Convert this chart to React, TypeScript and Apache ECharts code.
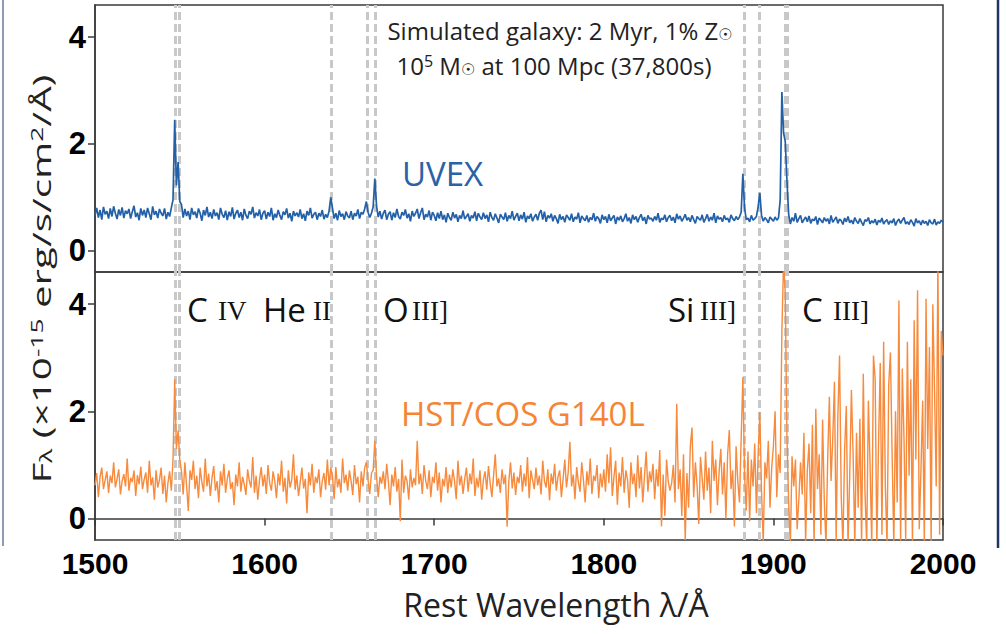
import React, { useEffect, useRef } from "react";
import * as echarts from "echarts";

// Wavelength grid (Å): first sample and spacing
const WAVE_START = 1500;
const WAVE_STEP = 1;

// UVEX simulated spectrum, flux in 1e-15 erg/s/cm^2/Å, one value per Å from 1500 to 2000
const UVEX_FLUX = [
  0.66,0.80,0.62,0.76,0.58,0.82,0.68,0.74,0.60,0.79,
  0.64,0.83,0.70,0.59,0.77,0.66,0.81,0.61,0.75,0.69,
  0.78,0.60,0.73,0.84,0.63,0.71,0.57,0.79,0.66,0.76,
  0.62,0.80,0.69,0.58,0.83,0.67,0.74,0.61,0.78,0.70,
  0.65,0.79,0.59,0.72,0.64,0.80,0.95,2.45,1.22,1.66,
  0.92,0.86,0.62,0.78,0.65,0.74,0.58,0.80,0.67,0.73,
  0.61,0.79,0.70,0.56,0.76,0.66,0.82,0.63,0.72,0.60,
  0.77,0.65,0.71,0.58,0.80,0.68,0.62,0.75,0.57,0.73,
  0.64,0.81,0.59,0.70,0.76,0.62,0.72,0.57,0.78,0.66,
  0.60,0.74,0.68,0.82,0.61,0.71,0.65,0.77,0.58,0.70,
  0.75,0.59,0.72,0.64,0.80,0.57,0.69,0.62,0.76,0.66,
  0.58,0.73,0.67,0.79,0.61,0.70,0.55,0.74,0.65,0.71,
  0.63,0.77,0.60,0.69,0.56,0.74,0.66,0.80,0.61,0.68,
  0.72,0.58,0.70,0.64,0.76,0.59,0.68,0.62,0.74,1.00,
  0.80,0.60,0.70,0.57,0.75,0.64,0.69,0.58,0.73,0.65,
  0.61,0.74,0.58,0.70,0.65,0.77,0.60,0.72,0.68,0.78,
  0.92,0.72,0.62,0.70,0.82,1.35,0.84,0.63,0.74,0.59,
  0.70,0.76,0.58,0.68,0.73,0.57,0.71,0.62,0.78,0.64,
  0.59,0.72,0.66,0.77,0.61,0.69,0.55,0.74,0.64,0.70,
  0.78,0.60,0.71,0.80,0.58,0.68,0.63,0.75,0.57,0.72,
  0.66,0.56,0.71,0.60,0.74,0.58,0.67,0.53,0.70,0.62,
  0.57,0.72,0.61,0.68,0.54,0.66,0.60,0.75,0.59,0.64,
  0.69,0.55,0.66,0.61,0.73,0.56,0.70,0.63,0.58,0.71,
  0.60,0.67,0.54,0.72,0.62,0.57,0.69,0.61,0.52,0.68,
  0.63,0.58,0.71,0.55,0.66,0.60,0.74,0.57,0.64,0.70,
  0.56,0.67,0.59,0.72,0.53,0.65,0.60,0.69,0.55,0.63,
  0.68,0.57,0.70,0.76,0.58,0.73,0.54,0.66,0.61,0.69,
  0.55,0.66,0.60,0.51,0.68,0.58,0.64,0.53,0.67,0.62,
  0.57,0.69,0.54,0.63,0.59,0.71,0.52,0.65,0.60,0.56,
  0.66,0.53,0.62,0.58,0.70,0.55,0.64,0.60,0.51,0.67,
  0.58,0.64,0.52,0.68,0.56,0.61,0.66,0.50,0.63,0.57,
  0.65,0.54,0.60,0.69,0.55,0.62,0.51,0.67,0.58,0.64,
  0.53,0.62,0.68,0.56,0.63,0.50,0.66,0.59,0.61,0.55,
  0.64,0.57,0.70,0.53,0.61,0.58,0.67,0.54,0.62,0.66,
  0.56,0.63,0.52,0.69,0.59,0.65,0.55,0.61,0.68,0.57,
  0.62,0.54,0.66,0.58,0.51,0.64,0.60,0.57,0.67,0.53,
  0.60,0.68,0.55,0.63,0.57,0.70,0.52,0.65,0.59,0.62,
  0.54,0.66,0.58,0.61,0.53,0.67,0.60,0.56,0.64,0.58,
  0.63,0.72,1.44,0.80,0.58,0.61,0.54,0.66,0.57,0.60,
  0.64,0.82,1.08,0.66,0.55,0.62,0.58,0.52,0.63,0.59,
  0.55,0.63,0.57,0.61,0.95,2.97,2.20,2.04,1.30,0.68,
  0.50,0.62,0.55,0.70,0.53,0.60,0.66,0.52,0.58,0.63,
  0.54,0.65,0.51,0.59,0.56,0.64,0.49,0.61,0.57,0.52,
  0.62,0.55,0.60,0.50,0.66,0.53,0.58,0.63,0.51,0.59,
  0.56,0.49,0.61,0.54,0.64,0.52,0.57,0.50,0.62,0.55,
  0.51,0.60,0.53,0.47,0.58,0.55,0.62,0.50,0.56,0.52,
  0.59,0.48,0.57,0.53,0.61,0.50,0.55,0.58,0.49,0.56,
  0.52,0.60,0.47,0.55,0.59,0.51,0.57,0.62,0.50,0.54,
  0.49,0.58,0.53,0.46,0.60,0.52,0.56,0.48,0.57,0.51,
  0.55,0.47,0.58,0.52,0.50,0.59,0.48,0.54,0.51,0.57,
  0.53,
];

// HST/COS G140L spectrum, same units and grid
const HST_FLUX = [
  0.62,0.85,0.40,0.78,0.95,0.55,0.72,0.88,0.48,0.80,
  0.66,1.05,0.58,0.74,0.92,0.45,0.70,0.83,0.60,1.12,
  0.52,0.76,0.68,0.90,0.42,0.81,0.64,0.97,0.55,0.73,
  0.86,0.48,1.08,0.62,0.77,0.35,0.90,0.58,0.72,0.95,
  0.46,0.80,0.30,0.66,0.88,0.52,1.10,2.60,1.30,1.64,
  1.10,0.88,0.45,1.05,0.62,0.14,0.90,0.72,1.08,0.55,
  0.80,0.38,0.95,0.68,0.50,1.12,0.60,0.84,0.42,0.76,
  0.98,0.52,0.70,0.30,0.88,0.62,1.02,0.48,0.74,0.90,
  0.55,0.68,0.25,0.82,0.60,1.05,0.50,0.78,0.64,0.44,
  0.92,0.70,0.58,1.15,0.48,0.80,0.35,0.72,0.96,0.60,
  0.82,0.46,1.00,0.66,0.52,0.88,0.70,0.38,0.84,0.62,
  1.08,0.50,0.76,0.28,0.90,0.58,0.72,1.20,0.54,0.80,
  0.42,0.68,0.95,0.56,0.74,0.10,0.86,0.62,1.02,0.48,
  0.78,0.66,0.92,0.40,0.70,0.85,0.54,1.10,0.62,0.95,
  0.80,0.36,0.96,0.58,0.74,0.48,1.12,0.66,0.82,0.52,
  0.90,0.70,0.44,1.00,0.64,0.78,0.30,0.88,0.60,0.95,
  1.05,0.72,0.46,0.85,0.90,1.45,0.80,0.40,0.78,0.65,
  0.88,0.55,1.02,0.68,0.25,0.82,0.60,0.96,0.50,0.74,
  -0.05,1.10,0.48,0.80,0.70,0.35,0.92,0.58,0.76,0.62,
  1.45,0.64,0.84,0.46,1.00,0.70,0.55,0.90,0.40,0.78,
  0.66,1.05,0.52,0.86,0.30,0.74,0.60,0.96,0.48,0.82,
  0.58,0.92,0.70,0.36,1.08,0.62,0.80,0.46,0.74,0.95,
  0.50,0.84,0.64,1.12,0.42,0.76,0.58,0.90,0.35,0.72,
  0.88,0.54,0.98,0.66,0.40,0.80,1.20,0.60,0.75,0.48,
  0.92,0.64,0.82,-0.15,0.70,1.05,0.56,0.86,0.44,0.78,
  0.66,1.00,0.50,0.84,0.60,1.15,0.38,0.90,0.72,0.55,
  0.95,0.62,0.80,0.45,1.08,0.70,0.58,0.92,0.34,0.84,
  0.64,1.02,0.52,0.78,0.90,0.40,0.74,1.10,0.58,0.86,
  1.43,0.60,0.82,0.36,0.96,0.68,0.50,1.05,0.72,0.30,
  0.88,0.62,1.12,0.46,0.80,0.70,1.00,0.38,0.84,0.58,
  0.92,0.50,1.20,0.66,1.33,0.42,0.78,1.08,0.26,0.86,
  0.60,1.15,0.48,0.90,0.72,0.20,1.05,0.64,0.84,0.40,
  1.18,0.56,0.96,0.30,0.80,1.25,0.50,0.88,0.68,1.02,
  0.36,0.92,0.60,1.28,-0.15,0.82,0.05,1.10,0.70,0.52,
  0.66,1.00,0.30,2.14,0.55,0.92,0.05,1.20,-0.40,0.85,
  0.20,1.35,1.70,0.40,1.05,0.62,-0.10,1.15,0.75,0.35,
  1.25,0.52,0.95,0.10,1.45,0.70,1.10,0.25,0.88,1.30,
  0.45,1.05,0.00,1.20,1.65,0.55,0.90,-0.15,1.35,0.70,
  0.30,1.50,2.64,0.80,0.15,1.25,-0.05,1.10,0.60,1.40,
  0.10,1.20,1.99,0.50,-0.45,1.05,0.75,1.45,0.20,0.95,
  1.35,2.00,0.40,1.20,0.85,3.50,4.80,4.20,1.50,0.30,
  -0.50,1.16,0.60,1.10,-0.20,0.35,1.05,0.45,1.60,-0.45,
  0.90,1.40,0.10,1.75,-0.50,2.05,0.55,1.20,-0.30,1.85,
  0.35,-0.50,1.10,2.27,0.70,1.50,2.55,-0.45,1.90,3.04,
  0.40,-0.50,1.30,2.10,-0.50,0.80,2.40,1.20,-0.50,1.60,
  0.20,1.86,-0.50,2.70,0.50,-0.50,2.20,1.00,-0.50,3.04,
  2.60,-0.50,1.40,2.90,-0.30,3.30,0.60,-0.50,2.50,3.10,
  1.20,-0.50,2.00,0.30,4.07,-0.50,2.80,1.50,-0.40,3.30,
  0.80,2.60,-0.50,3.70,1.10,4.26,-0.20,0.90,2.20,-0.50,
  4.10,1.30,3.20,-0.50,4.00,2.40,0.60,4.80,-0.30,3.50,
  3.04,
];

// Emission line rest wavelengths (Å) marked by dashed lines
const LINE_WAVES = [1547.5, 1549.7, 1639.3, 1660.5, 1665.1, 1882.7, 1891.6, 1907.1, 1908.4];

// Axes
const X_MIN = 1500;
const X_MAX = 2000;
const X_INTERVAL = 100;
const Y_MIN = -0.4;
const Y_MAX = 4.6;
const Y_TICKS = [0, 2, 4];

// Texts
const ANNOT_LINE1 = "Simulated galaxy: 2 Myr, 1% Z{sub|☉}";
const ANNOT_LINE2 = "10{sup|5} M{sub|☉} at 100 Mpc (37,800s)";
const UVEX_LABEL = "UVEX";
const HST_LABEL = "HST/COS G140L";
const X_TITLE = "Rest Wavelength λ/Å";
const Y_TITLE = "F{sub|λ} (×10{sup|-15} erg/s/cm{sup|2}/Å)";
// [element, ionization stage, x position of element, x position of stage]
const ION_LABELS: [string, string, number, number][] = [
  ["C", "IV", 187, 218],
  ["He", "II", 263, 313],
  ["O", "III]", 383, 412],
  ["Si", "III]", 668, 700],
  ["C", "III]", 802, 833],
];

const BLUE = "#2260a8";
const ORANGE = "#f78a3c";
const AXIS = "#3a3a3a";
const DASH = "#c8c8c8";
const SANS = '"Open Sans", "DejaVu Sans", sans-serif';
const SERIF = '"Liberation Serif", "DejaVu Serif", serif';

const toPairs = (arr: number[]) => arr.map((v, i) => [WAVE_START + i * WAVE_STEP, v]);

export default function App() {
  const ref = useRef<HTMLDivElement>(null);

  useEffect(() => {
    if (!ref.current) return;
    const chart = echarts.init(ref.current, null, { renderer: "svg" });

    const markLine = {
      silent: true,
      z: 1,
      symbol: ["none", "none"],
      label: { show: false },
      emphasis: { disabled: true },
      lineStyle: { color: DASH, type: [8, 4], width: 3 },
      data: LINE_WAVES.map((w) => ({ xAxis: w })),
    };

    const yAxisBase = (gridIndex: number) => ({
      gridIndex,
      type: "value",
      min: Y_MIN,
      max: Y_MAX,
      axisLine: { show: true, lineStyle: { color: AXIS, width: 1.5 } },
      axisTick: { show: true, length: 7, customValues: Y_TICKS, lineStyle: { color: AXIS, width: 1.5 } },
      axisLabel: {
        customValues: Y_TICKS,
        color: "#000",
        fontSize: 31,
        fontWeight: "bold",
        fontFamily: '"Liberation Sans", Arial, sans-serif',
        margin: 9,
      },
      splitLine: { show: false },
    });

    const supSub = {
      sub: { fontSize: 16, verticalAlign: "bottom", fontFamily: SANS, fill: "#222" },
      sup: { fontSize: 16, verticalAlign: "top", fontFamily: SANS, fill: "#222" },
    };

    const graphic: any[] = [
      { type: "line", shape: { x1: 3, y1: 0, x2: 3, y2: 546 }, style: { stroke: "#6a7a96", lineWidth: 1.5 }, silent: true },
      { type: "line", shape: { x1: 998, y1: 0, x2: 998, y2: 548 }, style: { stroke: "#1f3566", lineWidth: 2.5 }, silent: true },
      {
        type: "text", x: 560, y: 30, silent: true,
        style: { text: ANNOT_LINE1, fontSize: 24, fontFamily: SANS, fill: "#222", align: "center", verticalAlign: "middle", textAlign: "center", textVerticalAlign: "middle", rich: supSub },
      },
      {
        type: "text", x: 554, y: 65, silent: true,
        style: { text: ANNOT_LINE2, fontSize: 24, fontFamily: SANS, fill: "#222", align: "center", verticalAlign: "middle", textAlign: "center", textVerticalAlign: "middle", rich: supSub },
      },
      {
        type: "text", x: 402, y: 173, silent: true,
        style: { text: UVEX_LABEL, fontSize: 33, fontFamily: SANS, fill: "#2a62a8", align: "left", verticalAlign: "middle", textAlign: "left", textVerticalAlign: "middle" },
      },
      {
        type: "text", x: 401, y: 413, silent: true,
        style: { text: HST_LABEL, fontSize: 33, fontFamily: SANS, fill: "#f58536", align: "left", verticalAlign: "middle", textAlign: "left", textVerticalAlign: "middle" },
      },
      {
        type: "text", x: 556, y: 604, silent: true,
        style: { text: X_TITLE, fontSize: 32, fontFamily: SANS, fill: "#222", align: "center", verticalAlign: "middle", textAlign: "center", textVerticalAlign: "middle" },
      },
      {
        type: "text", x: 41, y: 279, rotation: Math.PI / 2, scaleX: 1.55, scaleY: 1, silent: true,
        style: {
          text: Y_TITLE, fontSize: 26, fontFamily: SANS, fill: "#222",
          align: "center", verticalAlign: "middle", textAlign: "center", textVerticalAlign: "middle",
          rich: {
            sub: { fontSize: 17, verticalAlign: "bottom", fontFamily: SANS, fill: "#222" },
            sup: { fontSize: 17, verticalAlign: "top", fontFamily: SANS, fill: "#222" },
          },
        },
      },
    ];

    ION_LABELS.forEach(([el, stage, xe, xs]) => {
      graphic.push({
        type: "text", x: xe, y: 309, silent: true,
        style: { text: el, fontSize: 33, fontFamily: SANS, fill: "#111", align: "left", verticalAlign: "middle", textAlign: "left", textVerticalAlign: "middle" },
      });
      graphic.push({
        type: "text", x: xs, y: 311, silent: true,
        style: { text: stage, fontSize: 27, fontFamily: SERIF, fill: "#111", align: "left", verticalAlign: "middle", textAlign: "left", textVerticalAlign: "middle" },
      });
    });

    chart.setOption({
      animation: false,
      backgroundColor: "#ffffff",
      grid: [
        { left: 95, top: 5, width: 848, height: 267, show: true, borderColor: AXIS, borderWidth: 1.5, backgroundColor: "transparent" },
        { left: 95, top: 272, width: 848, height: 268, show: true, borderColor: AXIS, borderWidth: 1.5, backgroundColor: "transparent" },
      ],
      xAxis: [
        {
          gridIndex: 0, type: "value", min: X_MIN, max: X_MAX, interval: X_INTERVAL,
          axisLine: { show: false }, axisTick: { show: false }, axisLabel: { show: false }, splitLine: { show: false },
        },
        {
          gridIndex: 1, type: "value", min: X_MIN, max: X_MAX, interval: X_INTERVAL,
          axisLine: { show: true, lineStyle: { color: AXIS, width: 1.5 } },
          axisTick: { show: true, length: 7, lineStyle: { color: AXIS, width: 1.5 } },
          axisLabel: {
            color: "#000", fontSize: 30, fontWeight: "bold",
            fontFamily: '"Liberation Sans", Arial, sans-serif',
            margin: 8,
            formatter: (v: number) => String(v),
          },
          splitLine: { show: false },
        },
      ],
      yAxis: [yAxisBase(0), yAxisBase(1)],
      series: [
        {
          type: "line", xAxisIndex: 0, yAxisIndex: 0, data: toPairs(UVEX_FLUX), z: 3,
          showSymbol: false, symbol: "none", clip: true, silent: true,
          lineStyle: { color: BLUE, width: 1.7 }, markLine,
        },
        {
          type: "line", xAxisIndex: 1, yAxisIndex: 1, data: toPairs(HST_FLUX), z: 3,
          showSymbol: false, symbol: "none", clip: true, silent: true,
          lineStyle: { color: ORANGE, width: 1.4 }, markLine,
        },
      ],
      graphic,
    });

    return () => chart.dispose();
  }, []);

  return <div ref={ref} style={{ position: "absolute", left: 0, top: 0, width: 1006, height: 634 }} />;
}
